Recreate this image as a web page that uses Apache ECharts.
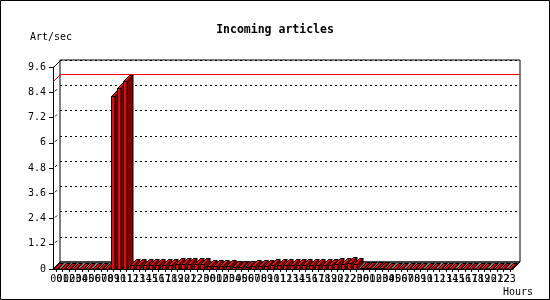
<!DOCTYPE html>
<html>
<head>
<meta charset="utf-8">
<script src="https://cdn.jsdelivr.net/npm/echarts@6/dist/echarts.min.js"></script>
<style>
html,body{margin:0;padding:0;background:#fff;}
#chart{width:550px;height:300px;}
</style>
</head>
<body>
<div id="chart"></div>
<script>
// ---- data ----
var hourLabels = ['00','01','02','03','04','05','06','07','08','09','10','11',
                  '12','13','14','15','16','17','18','19','20','21','22','23'];
var dayCount = 3;
var categories = [];
for (var dd = 0; dd < dayCount; dd++) { categories = categories.concat(hourLabels); }

var articlesPerSec = [
  0, 0, 0, 0, 0, 0, 0, 0, 0, 8.22, 8.6, 8.93,
  0.19, 0.2, 0.19, 0.21, 0.2, 0.19, 0.2, 0.22, 0.24, 0.23, 0.24, 0.22,
  0.15, 0.14, 0.13, 0.12, 0.1, 0.11, 0.1, 0.12, 0.13, 0.15, 0.17, 0.19,
  0.2, 0.19, 0.2, 0.21, 0.19, 0.2, 0.21, 0.2, 0.22, 0.24, 0.27, 0.22,
  0.05, 0.04, 0.04, 0.03, 0, 0, 0, 0, 0, 0, 0, 0,
  0, 0, 0, 0, 0, 0, 0, 0, 0, 0, 0, 0
];
var maxLine = 8.93;
var yTicks = ['0','1.2','2.4','3.6','4.8','6','7.2','8.4','9.6'];
var yMin = 0, yMax = 9.6, yStep = 1.2;
var titleText = 'Incoming articles';
var yName = 'Art/sec';
var xName = 'Hours';

// ---- chart ----
var FONT = '"DejaVu Sans Mono", monospace';
var DEPTH_WALL = 7;
var DEPTH_BAR = 6;
var chart = echarts.init(document.getElementById('chart'));

function renderFloor(params, api) {
  var cs = params.coordSys;
  var x = cs.x, y = cs.y, w = cs.width, h = cs.height, d = DEPTH_WALL;
  var children = [];
  children.push({
    type: 'polygon',
    shape: { points: [[x, y + h], [x + w, y + h], [x + w + d, y + h - d], [x + d, y + h - d]] },
    style: { fill: '#808080', stroke: '#000', lineWidth: 1 }
  });
  children.push({
    type: 'line',
    shape: { x1: x + 0.5, y1: y + 0.5, x2: x + d + 0.5, y2: y - d + 0.5 },
    style: { stroke: '#000', lineWidth: 1 }
  });
  for (var k = 1; k < yTicks.length - 1; k++) {
    var ty = api.coord([0, parseFloat(yTicks[k])])[1];
    children.push({
      type: 'line',
      shape: { x1: x + 2, y1: ty - 1, x2: x + 4, y2: ty - 3 },
      style: { stroke: '#000', lineWidth: 1 }
    });
  }
  var ry = Math.round(api.coord([0, maxLine])[1]) + 0.5;
  children.push({
    type: 'line',
    shape: { x1: x + 0.5, y1: ry, x2: x + d + 0.5, y2: ry - d },
    style: { stroke: '#ff0000', lineWidth: 1 }
  });
  return { type: 'group', children: children };
}

function renderBar(params, api) {
  var i = api.value(0), v = api.value(1);
  var top = api.coord([i, v]);
  var base = api.coord([i, 0]);
  var w = 3.5, d = DEPTH_BAR;
  var x0 = Math.round(top[0] - 3) + 0.5;
  var yT = Math.round(top[1]) + 0.5;
  var yB = Math.round(base[1]) + 0.5;
  var st = { stroke: '#000', lineWidth: 1 };
  return {
    type: 'group',
    children: [
      { type: 'polygon',
        shape: { points: [[x0 + w, yT], [x0 + w + d, yT - d], [x0 + w + d, yB - d], [x0 + w, yB]] },
        style: Object.assign({ fill: '#800000' }, st) },
      { type: 'rect',
        shape: { x: x0, y: yT, width: w, height: yB - yT },
        style: Object.assign({ fill: '#ff0000' }, st) },
      { type: 'polygon',
        shape: { points: [[x0, yT], [x0 + w, yT], [x0 + w + d, yT - d], [x0 + d, yT - d]] },
        style: Object.assign({ fill: '#ff0000' }, st) }
    ]
  };
}

var barData = articlesPerSec.map(function (v, i) { return [i, v]; });

var option = {
  animation: false,
  backgroundColor: '#fff',
  title: {
    text: titleText, left: 'center', top: 19,
    textStyle: { fontFamily: FONT, fontSize: 11.5, fontWeight: 'bold', color: '#000' }
  },
  graphic: [
    { type: 'rect', shape: { x: 0.5, y: 0.5, width: 549, height: 299 },
      style: { fill: 'none', stroke: '#000', lineWidth: 1 }, z: 100 },
    { type: 'text', left: 30, top: 32,
      style: { text: yName, font: '10px ' + FONT, fill: '#000' } },
    { type: 'text', left: 503, top: 287,
      style: { text: xName, font: '10px ' + FONT, fill: '#000' } }
  ],
  grid: [
    { left: 53, top: 67, width: 460, height: 202, show: false },
    { left: 60, top: 60, width: 460, height: 202, show: true,
      borderColor: '#000', borderWidth: 1, backgroundColor: '#fff', z: 0 }
  ],
  xAxis: [
    { type: 'category', gridIndex: 0, data: categories,
      axisLine: { show: true, lineStyle: { color: '#000', width: 1 } },
      axisTick: { show: true, alignWithLabel: true, interval: 0, length: 3, lineStyle: { color: '#000' } },
      axisLabel: { interval: 0, fontFamily: FONT, fontSize: 10, color: '#000', margin: 5 },
      splitLine: { show: false } },
    { type: 'category', gridIndex: 1, data: categories, show: false }
  ],
  yAxis: [
    { type: 'value', gridIndex: 0, min: yMin, max: yMax, interval: yStep,
      axisLine: { show: true, lineStyle: { color: '#000', width: 1 } },
      axisTick: { show: true, length: 4, lineStyle: { color: '#000' } },
      axisLabel: { fontFamily: FONT, fontSize: 10, color: '#000', margin: 7,
        formatter: function (val) {
          var idx = Math.round((val - yMin) / yStep);
          return yTicks[idx] !== undefined ? yTicks[idx] : '';
        } },
      splitLine: { show: false } },
    { type: 'value', gridIndex: 1, min: yMin, max: yMax, interval: yStep,
      axisLine: { show: false }, axisTick: { show: false }, axisLabel: { show: false },
      splitLine: { show: true, lineStyle: { color: '#000', width: 1, type: [2, 3] } } }
  ],
  series: [
    { type: 'line', xAxisIndex: 1, yAxisIndex: 1, data: [], silent: true,
      markLine: { silent: true, symbol: 'none', label: { show: false },
        lineStyle: { color: '#ff0000', type: 'solid', width: 1 },
        data: [{ yAxis: maxLine }] } },
    { type: 'custom', xAxisIndex: 0, yAxisIndex: 0, data: [[0, 0]],
      renderItem: renderFloor, silent: true, z: 3 },
    { type: 'custom', xAxisIndex: 0, yAxisIndex: 0, data: barData,
      encode: { x: 0, y: 1 }, renderItem: renderBar, silent: true, z: 4 }
  ]
};
chart.setOption(option);
</script>
</body>
</html>
